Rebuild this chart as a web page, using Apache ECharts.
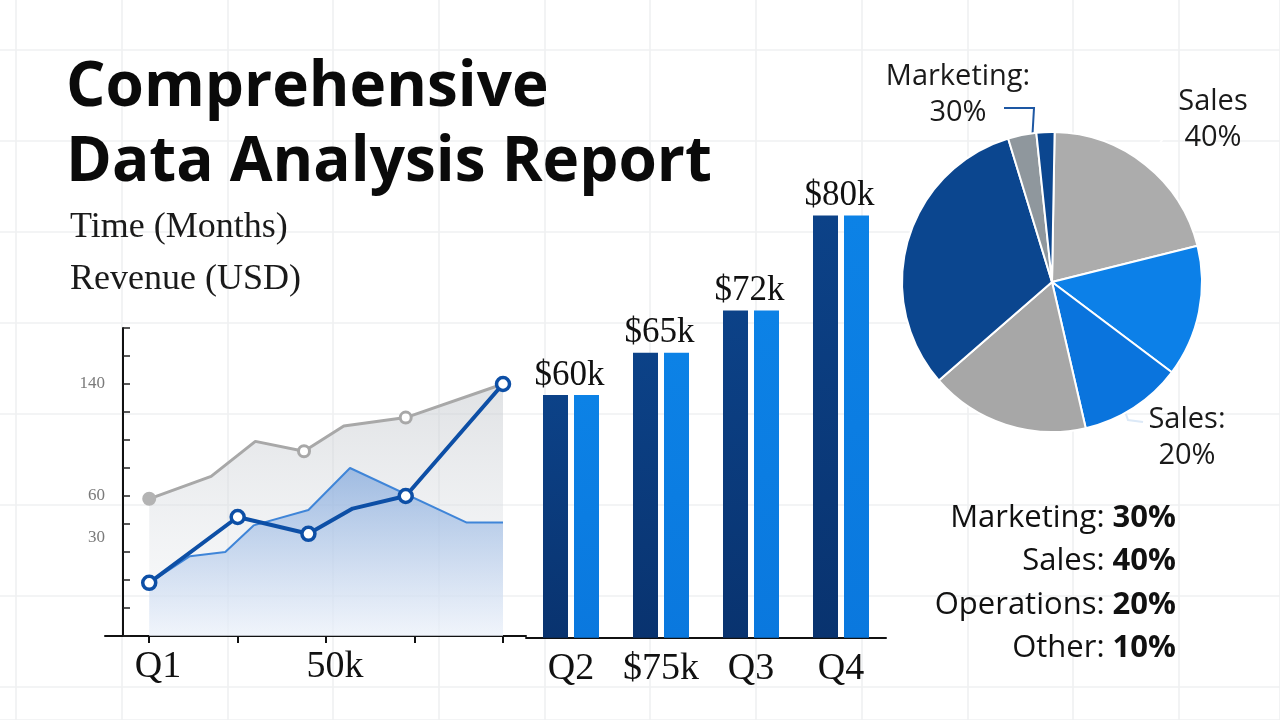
<!DOCTYPE html>
<html><head><meta charset="utf-8">
<script src="https://cdn.jsdelivr.net/npm/echarts@6/dist/echarts.min.js"></script>
<style>html,body{margin:0;padding:0;background:#fff}#c{width:1280px;height:720px}</style>
</head><body><div id="c"></div>
<script>
// ---------- data ----------
const titleText = 'Comprehensive\nData Analysis Report';
const axisTitles = ['Time (Months)', 'Revenue (USD)'];

// left line / area chart (x in months index, y in axis units)
const leftYTickLabels = [140, 60, 30];
const leftXTicks = [0, 1, 2, 3, 4];
const leftXLabelValues = [0.1, 2.1];
const leftXLabels = ['Q1', '50k'];
const trendGray = [[0, 58], [0.7, 74], [1.2, 99], [1.75, 92], [2.2, 110], [2.9, 116], [4, 140]];
const trendGrayMarked = [0, 3, 5];
const trendGrayFilled = [0];
const areaBlue = [[0, -2], [0.46, 17], [0.86, 20], [1.18, 39], [1.8, 50], [2.27, 80], [3.59, 41], [4, 41]];
const trendBlue = [[0, -2], [1, 45], [1.8, 33], [2.3, 51], [2.9, 60], [4, 140]];
const trendBlueMarked = [0, 1, 2, 4, 5];

// bar chart
const barCategories = ['Q2', '$75k', 'Q3', 'Q4'];
const barValues = [46, 54, 62, 80];
const barLabels = ['$60k', '$65k', '$72k', '$80k'];

// pie (slice sizes as drawn, in degrees)
const pieSliceNames = ['Sales', 'Sales B', 'Sales C', 'Operations', 'Marketing', 'Other', 'Other B'];
const pieSliceValues = [75, 51, 40, 62, 114, 11, 7];
const pieSliceLabels = ['Sales\n40%', '', 'Sales:\n20%', '', '', 'Marketing:\n30%', ''];

// summary list
const shareNames = ['Marketing', 'Sales', 'Operations', 'Other'];
const shareValues = [30, 40, 20, 10];

// ---------- styles / layout ----------
const SERIF = 'Liberation Serif';
const SANS = 'Open Sans';
const pieColors = ['#acacac', '#0c80e8', '#0a74dd', '#a7a7a7', '#0b468f', '#8f979d', '#0b468f'];
const pieLineColors = {0: '#ffffff', 2: '#dce9f7', 5: '#1d57a3'};
const pieCenter = [1052, 282];
const pieRadius = 150;
const pieLabelSpec = {
  5: {x: 958, y: 95, inner: 0.73, elbow: [76, 13], end: [46, 13]},
  0: {x: 1213, y: 120, inner: 0.8, elbow: [-48, 16], end: [-35, 16]},
  2: {x: 1187, y: 438, inner: 0.75, elbow: [-59, -18], end: [-44, -16]}
};
const paperLine = {color: '#eff0f2', width: 1.6};
const hidden = {axisLine: {show: false}, axisTick: {show: false}, axisLabel: {show: false}};

const chart = echarts.init(document.getElementById('c'), null, {renderer: 'canvas'});

const grayData = trendGray.map((v, i) => ({
  value: v,
  symbol: trendGrayMarked.includes(i) ? 'circle' : 'none',
  itemStyle: trendGrayFilled.includes(i) ? {color: '#b3b3b3', borderColor: '#b3b3b3'} : undefined
}));
const blueData = trendBlue.map((v, i) => ({
  value: v,
  symbol: trendBlueMarked.includes(i) ? 'circle' : 'none'
}));

const pieData = pieSliceValues.map((v, i) => {
  const has = !!pieSliceLabels[i];
  return {
    name: pieSliceNames[i],
    value: v,
    itemStyle: {color: pieColors[i]},
    label: {show: has},
    labelLine: {show: has, lineStyle: {color: pieLineColors[i] || '#333', width: 2}}
  };
});

const listGraphics = shareNames.map((n, i) => ({
  type: 'text',
  z: 100,
  x: 1176,
  y: 518 + i * 43.5,
  style: {
    text: '{n|' + n + ': }{v|' + shareValues[i] + '%}',
    align: 'right',
    verticalAlign: 'middle',
    rich: {
      n: {fontFamily: SANS, fontSize: 31, fontWeight: 400, fill: '#111', color: '#111'},
      v: {fontFamily: SANS, fontSize: 31, fontWeight: 700, fill: '#111', color: '#111'}
    }
  }
}));

const option = {
  animation: false,
  backgroundColor: '#ffffff',
  title: [
    {text: titleText, left: 66, top: 51, padding: 0, z: 10,
     textStyle: {fontFamily: SANS, fontWeight: 700, fontSize: 62, lineHeight: 75, color: '#0a0a0a'}},
    {text: axisTitles.join('\n'), left: 70, top: 202, padding: 0, z: 10,
     textStyle: {fontFamily: SERIF, fontWeight: 400, fontSize: 36, lineHeight: 52, color: '#1a1a1a'}}
  ],
  graphic: listGraphics,
  grid: [
    {left: 16, right: 0, top: 0, bottom: 0, z: 0},
    {left: 105, top: 328, width: 421, height: 308},
    {left: 526, width: 360, top: 110, bottom: 82.3},
    {left: 0, right: 0, top: 50, bottom: 0, z: 0}
  ],
  xAxis: [
    Object.assign({gridIndex: 0, type: 'value', min: 0, max: 1264, interval: 105.7, silent: true, z: 0,
     splitLine: {show: true, lineStyle: paperLine}}, hidden),
    {gridIndex: 1, type: 'value', min: -0.5, max: 4.26,
     axisLine: {show: true, onZero: false, lineStyle: {color: '#111', width: 2}},
     axisTick: {show: true, customValues: leftXTicks, length: 7, lineStyle: {color: '#111', width: 2}},
     axisLabel: {show: true, customValues: leftXLabelValues,
       formatter: (v) => leftXLabels[leftXLabelValues.indexOf(v)] || '',
       fontFamily: SERIF, fontSize: 38, color: '#111', margin: 12},
     splitLine: {show: false}},
    {gridIndex: 2, type: 'category', data: barCategories,
     axisLine: {show: true, lineStyle: {color: '#111', width: 2}},
     axisTick: {show: false},
     axisLabel: {interval: 0, hideOverlap: false, fontFamily: SERIF, fontSize: 38, color: '#111', margin: 12},
     splitLine: {show: false}},
    Object.assign({gridIndex: 3, type: 'value', min: 0, max: 1, silent: true, splitLine: {show: false}}, hidden)
  ],
  yAxis: [
    Object.assign({gridIndex: 0, type: 'value', min: 0, max: 1, silent: true, splitLine: {show: false}}, hidden),
    {gridIndex: 1, type: 'value', min: -40, max: 180, interval: 20, offset: -18,
     axisLine: {show: true, onZero: false, lineStyle: {color: '#111', width: 2}},
     axisTick: {show: true, inside: true, length: 7, lineStyle: {color: '#222', width: 1.5}},
     axisLabel: {show: true, customValues: leftYTickLabels, fontFamily: SERIF, fontSize: 17, color: '#7a7a7a', margin: 18},
     splitLine: {show: false}},
    {gridIndex: 2, type: 'value', min: 0, max: 100, show: false},
    Object.assign({gridIndex: 3, type: 'value', min: 0, max: 670, interval: 91, inverse: true, silent: true, z: 0,
     splitLine: {show: true, lineStyle: paperLine}}, hidden)
  ],
  series: [
    {
      name: 'Trend (gray)', type: 'line', xAxisIndex: 1, yAxisIndex: 1, data: grayData, z: 2,
      symbolSize: 11, showSymbol: true,
      lineStyle: {color: '#a8a8a8', width: 3},
      itemStyle: {color: '#ffffff', borderColor: '#a8a8a8', borderWidth: 3},
      areaStyle: {origin: 'start', color: new echarts.graphic.LinearGradient(0, 0, 0, 1, [
        {offset: 0, color: 'rgba(196,200,205,0.75)'},
        {offset: 1, color: 'rgba(240,243,247,0.5)'}
      ])}
    },
    {
      name: 'Area (blue)', type: 'line', xAxisIndex: 1, yAxisIndex: 1, data: areaBlue, z: 3,
      showSymbol: false, symbol: 'none',
      lineStyle: {color: '#3f85d8', width: 2},
      areaStyle: {origin: 'start', color: new echarts.graphic.LinearGradient(0, 0, 0, 1, [
        {offset: 0, color: 'rgba(118,160,218,0.92)'},
        {offset: 1, color: 'rgba(234,240,250,0.85)'}
      ])}
    },
    {
      name: 'Trend (blue)', type: 'line', xAxisIndex: 1, yAxisIndex: 1, data: blueData, z: 4,
      symbolSize: 13, showSymbol: true,
      lineStyle: {color: '#0d4fa6', width: 4},
      itemStyle: {color: '#ffffff', borderColor: '#0d4fa6', borderWidth: 3.5}
    },
    {
      name: 'Revenue A', type: 'bar', xAxisIndex: 2, yAxisIndex: 2, data: barValues,
      barWidth: 25, barGap: '24%',
      itemStyle: {color: new echarts.graphic.LinearGradient(0, 0, 0, 1, [
        {offset: 0, color: '#0c4288'}, {offset: 1, color: '#09336f'}])},
      label: {show: true, position: 'top', distance: 2, offset: [14, 0],
        formatter: (p) => barLabels[p.dataIndex],
        fontFamily: SERIF, fontSize: 35, color: '#111'}
    },
    {
      name: 'Revenue B', type: 'bar', xAxisIndex: 2, yAxisIndex: 2, data: barValues,
      barWidth: 25, barGap: '24%',
      itemStyle: {color: new echarts.graphic.LinearGradient(0, 0, 0, 1, [
        {offset: 0, color: '#0c82e6'}, {offset: 1, color: '#0a78de'}])}
    },
    {
      name: 'Share', type: 'pie', center: pieCenter, radius: pieRadius,
      startAngle: 89, clockwise: true, avoidLabelOverlap: false, minAngle: 0,
      data: pieData,
      itemStyle: {borderColor: '#ffffff', borderWidth: 2},
      label: {
        position: 'outside',
        formatter: (p) => pieSliceLabels[p.dataIndex],
        fontFamily: SANS, fontSize: 29, lineHeight: 36, color: '#1a1a1a', align: 'center'
      },
      labelLine: {show: true, length: 10, length2: 10},
      emphasis: {disabled: true},
      labelLayout: function (p) {
        const s = pieLabelSpec[p.dataIndex];
        if (!s) return {};
        const out = {x: s.x, y: s.y, align: 'center', verticalAlign: 'middle'};
        if (p.labelLinePoints) {
          const e = p.labelLinePoints[0];
          const p0 = [pieCenter[0] + (e[0] - pieCenter[0]) * s.inner, pieCenter[1] + (e[1] - pieCenter[1]) * s.inner];
          out.labelLinePoints = [p0, [s.x + s.elbow[0], s.y + s.elbow[1]], [s.x + s.end[0], s.y + s.end[1]]];
        }
        return out;
      }
    }
  ]
};
chart.setOption(option);
</script>
</body></html>
